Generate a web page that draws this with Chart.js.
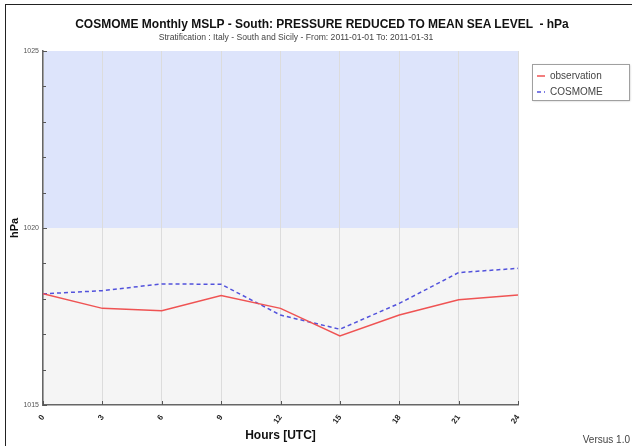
<!DOCTYPE html>
<html>
<head>
<meta charset="utf-8">
<script src="https://cdn.jsdelivr.net/npm/chart.js@4/dist/chart.umd.min.js"></script>
<style>
  html, body { margin: 0; padding: 0; background: #fff; }
  #wrap { position: relative; width: 632px; height: 446px; overflow: hidden; }
  #frame { position: absolute; left: 5px; top: 4px; right: -2px; bottom: -2px; border-left: 1.5px solid #222; border-top: 1.5px solid #222; }
  canvas { position: absolute; left: 0; top: 0; }
  .txt { position: absolute; white-space: pre; font-family: "Liberation Sans", Arial, sans-serif; transform: translateX(-50%); }
  #title { left: 322px; top: 17px; font-size: 12px; font-weight: bold; color: #111; }
  #subtitle { left: 296px; top: 32px; font-size: 8.6px; color: #444; }
  #ver { position: absolute; right: 2px; top: 434px; font: 10px "Liberation Sans", Arial, sans-serif; color: #444; }
</style>
</head>
<body>
<div id="wrap">
  <div id="frame"></div>
  <canvas id="c" width="632" height="446"></canvas>
  <div id="title" class="txt"></div>
  <div id="subtitle" class="txt"></div>
  <div id="ver">Versus 1.0</div>
</div>
<script>
const hours = [0, 3, 6, 9, 12, 15, 18, 21, 24];
const observation = [1018.14, 1017.73, 1017.66, 1018.09, 1017.73, 1016.95, 1017.54, 1017.97, 1018.11];
const cosmome = [1018.14, 1018.23, 1018.42, 1018.41, 1017.54, 1017.14, 1017.87, 1018.74, 1018.86];
const yMin = 1015, yMax = 1025, yBand = 1020;
const titleText = 'COSMOME Monthly MSLP - South: PRESSURE REDUCED TO MEAN SEA LEVEL  - hPa';
const subtitleText = 'Stratification : Italy - South and Sicily - From: 2011-01-01 To: 2011-01-31';

document.getElementById('title').textContent = titleText;
document.getElementById('subtitle').textContent = subtitleText;

const FONT = '"Liberation Sans", Arial, sans-serif';

const bandsPlugin = {
  id: 'bands',
  beforeDraw(chart) {
    const { ctx, chartArea: a, scales: { y } } = chart;
    ctx.save();
    const yTop = y.getPixelForValue(yMax), yMid = y.getPixelForValue(yBand), yBot = y.getPixelForValue(yMin);
    ctx.fillStyle = '#dde4fb';
    ctx.fillRect(a.left, yTop, a.right - a.left, yMid - yTop);
    ctx.fillStyle = '#f5f5f5';
    ctx.fillRect(a.left, yMid, a.right - a.left, yBot - yMid);
    ctx.restore();
  },
  afterDraw(chart) {
    const { ctx, chartArea: a, scales: { x, y } } = chart;
    ctx.save();
    ctx.strokeStyle = '#555';
    ctx.lineWidth = 1;
    for (let v = yMin; v <= yMax; v++) {
      const py = Math.round(y.getPixelForValue(v)) + 0.5;
      ctx.beginPath();
      ctx.moveTo(a.left, py);
      ctx.lineTo(a.left + (v % 5 === 0 ? 4 : 3), py);
      ctx.stroke();
    }
    hours.forEach(h => {
      const px = Math.round(x.getPixelForValue(h)) + 0.5;
      ctx.beginPath();
      ctx.moveTo(px, a.bottom);
      ctx.lineTo(px, a.bottom - 4);
      ctx.stroke();
    });
    // legend
    const lx = 532, ly = 64, lw = 97, lh = 36;
    ctx.shadowColor = 'rgba(0,0,0,0.25)';
    ctx.shadowBlur = 2;
    ctx.shadowOffsetX = 1;
    ctx.shadowOffsetY = 1;
    ctx.fillStyle = '#fff';
    ctx.fillRect(lx, ly, lw, lh);
    ctx.shadowColor = 'transparent';
    ctx.strokeStyle = '#a0a0a0';
    ctx.lineWidth = 1;
    ctx.strokeRect(lx + 0.5, ly + 0.5, lw, lh);
    ctx.font = '10px ' + FONT;
    ctx.textBaseline = 'middle';
    chart.data.datasets.forEach((ds, i) => {
      const yy = ly + 12 + i * 16;
      ctx.strokeStyle = ds.borderColor;
      ctx.lineWidth = 1.5;
      ctx.setLineDash(ds.borderDash || []);
      ctx.beginPath();
      ctx.moveTo(lx + 5, yy);
      ctx.lineTo(lx + 13, yy);
      ctx.stroke();
      ctx.setLineDash([]);
      ctx.fillStyle = '#444';
      ctx.fillText(ds.label, lx + 18, yy);
    });
    ctx.restore();
  }
};

new Chart(document.getElementById('c'), {
  type: 'line',
  data: {
    labels: hours,
    datasets: [
      { label: 'observation', data: observation, borderColor: '#ef5353', borderWidth: 1.5, pointRadius: 0, tension: 0, fill: false },
      { label: 'COSMOME', data: cosmome, borderColor: '#5252dc', borderWidth: 1.5, borderDash: [4, 3], pointRadius: 0, tension: 0, fill: false }
    ]
  },
  options: {
    responsive: false,
    animation: false,
    devicePixelRatio: 1,
    layout: { padding: { left: 6, right: 114, top: 51, bottom: 0 } },
    plugins: {
      legend: { display: false },
      tooltip: { enabled: false },
      title: { display: false },
      subtitle: { display: false }
    },
    scales: {
      x: {
        type: 'linear', min: 0, max: 24,
        afterBuildTicks: s => { s.ticks = hours.map(v => ({ value: v })); },
        afterFit: s => { s.height = 41; },
        grid: { color: '#dcdcdc', drawTicks: false, lineWidth: 1 },
        border: { color: '#666', width: 1.5 },
        ticks: {
          color: '#222', font: { family: FONT, size: 8, weight: 'bold' },
          minRotation: 55, maxRotation: 55, padding: 8, autoSkip: false
        },
        title: { display: true, text: 'Hours [UTC]', color: '#111', font: { family: FONT, size: 12, weight: 'bold' }, padding: { top: 0, bottom: 3 } }
      },
      y: {
        min: yMin, max: yMax,
        afterFit: s => { s.width = 37; },
        grid: { display: true, drawOnChartArea: false, drawTicks: false },
        border: { color: '#666', width: 1.5 },
        ticks: {
          stepSize: 1, color: '#555', font: { family: FONT, size: 7 }, padding: 4,
          callback: v => (v % 5 === 0 ? String(v) : '')
        },
        title: { display: true, text: 'hPa', color: '#111', font: { family: FONT, size: 11, weight: 'bold' }, padding: 2 }
      }
    }
  },
  plugins: [bandsPlugin]
});
</script>
</body>
</html>
